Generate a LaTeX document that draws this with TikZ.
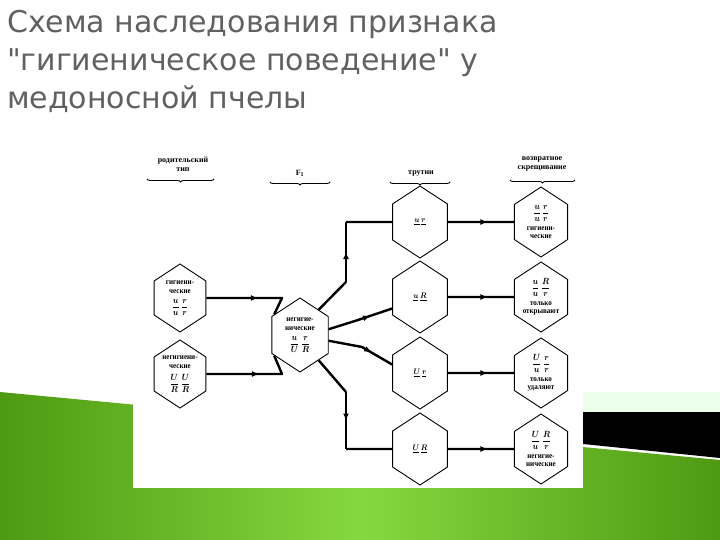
\documentclass[tikz,border=0pt]{standalone}
\usepackage{amsmath}
\usepackage{fontspec}
\setmainfont{Liberation Serif}
\newfontfamily\titlefont{DejaVu Sans}
\usetikzlibrary{shapes.geometric,decorations.markings,decorations.pathreplacing,calc,arrows.meta}
\definecolor{gA}{HTML}{4E9A12}
\definecolor{gB}{HTML}{86D840}
\newcommand{\fr}[2]{{\fontsize{9.5}{10}\selectfont$\boldsymbol{\displaystyle\frac{#1}{#2}}$}}
\begin{document}
\begin{tikzpicture}[x=1pt,y=-1pt,
  hexa/.style={draw,line width=0.9pt,regular polygon,regular polygon sides=6,shape border rotate=30,minimum size=#1,inner sep=0pt,align=center,font=\bfseries\fontsize{8}{8.5}\selectfont,xscale=0.88},
  hexa/.default=72,
  conn/.style={line width=2.4pt,line join=round,postaction={decorate},decoration={markings,mark=at position #1 with {\arrow{Latex[length=7pt,width=6pt]}}}},
  conn/.default=0.5,
  plain/.style={line width=2.4pt,line join=round},
  hdr/.style={font=\bfseries\fontsize{8}{9}\selectfont,align=center},
  brc/.style={decorate,decoration={brace,mirror,amplitude=3pt},line width=0.9pt}]
\useasboundingbox (0,0) rectangle (720,540);
\fill[white] (0,0) rectangle (720,540);
% background bands
\shade[left color=gA,right color=gA,middle color=gB] (0,392) -- (720,460) -- (720,540) -- (0,540) -- cycle;
\fill[green!8] (583,392) rectangle (720,412);
\fill[black] (583,412) -- (720,412) -- (720,458) -- (583,444) -- cycle;
% title
\node[anchor=north west,align=left,text=black!62,font=\titlefont\fontsize{30}{38}\selectfont,inner sep=0pt] (title) at (7,10) {Схема наследования признака\\"гигиеническое поведение" у\\медоносной пчелы};
% image
\fill[white] (133,140) rectangle (583,488);
% headers
\node[hdr] (h1) at (183,164) {родительский\\тип};
\node[hdr] (h2) at (300,173) {F$_\mathbf{1}$};
\node[hdr] (h3) at (421,173) {трутни};
\node[hdr] (h4) at (542,164) {возвратное\\скрещивание};
\draw[brc] (147,179) -- (214,179);
\draw[brc] (270,182) -- (330,182);
\draw[brc] (390,182) -- (450,182);
\draw[brc] (510,180) -- (575,180);
% hexagons
\node[hexa=68] (p1) at (180,298) {гигиени-\\ческие\\[5pt]\fr{u}{u}\ \fr{r}{r}};
\node[hexa=68] (p2) at (180,374) {негигиени-\\ческие\\[5pt]\fr{U}{R}\ \fr{U}{R}};
\node[hexa=74] (f1) at (300,335) {негигие-\\нические\\[5pt]\fr{u}{U}\ \fr{r}{R}};
\node[hexa] (d1) at (420,222) {$\underline{\boldsymbol{u}}\ \underline{\boldsymbol{r}}$};
\node[hexa] (d2) at (420,297) {$\underline{\boldsymbol{u}}\ \underline{\boldsymbol{R}}$};
\node[hexa] (d3) at (420,373) {$\underline{\boldsymbol{U}}\ \underline{\boldsymbol{r}}$};
\node[hexa] (d4) at (420,449) {$\underline{\boldsymbol{U}}\ \underline{\boldsymbol{R}}$};
\node[hexa=70] (b1) at (541,222) {\fr{u}{u}\,\fr{r}{r}\\[4pt]гигиени-\\ческие};
\node[hexa=70] (b2) at (541,297) {\fr{u}{u}\ \fr{R}{r}\\[4pt]только\\открывают};
\node[hexa=70] (b3) at (541,373) {\fr{U}{u}\ \fr{r}{r}\\[4pt]только\\удаляют};
\node[hexa=70] (b4) at (541,449) {\fr{U}{u}\ \fr{R}{r}\\[4pt]негигие-\\нические};
% connectors parents -> F1
\draw[conn=0.55] (p1.east) -- (282,298) -- (f1.145);
\draw[conn=0.55] (p2.east) -- (282,374) -- (f1.215);
% F1 -> drones
\coordinate (k1) at (346,282);
\coordinate (k1b) at (346,222);
\draw[plain] (f1.50) -- (k1);
\draw[conn=0.5] (k1) -- (k1b);
\draw[plain] (k1b) -- (d1.west);
\draw[conn=0.65] (f1.10) -- (358,320) -- (d2.200);
\draw[conn=0.65] (f1.-10) -- (362,347) -- (d3.165);
\coordinate (k4) at (346,392);
\coordinate (k4b) at (346,449);
\draw[plain] (f1.-50) -- (k4);
\draw[conn=0.5] (k4) -- (k4b);
\draw[plain] (k4b) -- (d4.west);
% drones -> backcross
\draw[conn=0.6] (d1.east) -- (b1.west);
\draw[conn=0.6] (d2.east) -- (b2.west);
\draw[conn=0.6] (d3.east) -- (b3.west);
\draw[conn=0.6] (d4.east) -- (b4.west);
\end{tikzpicture}
\end{document}
